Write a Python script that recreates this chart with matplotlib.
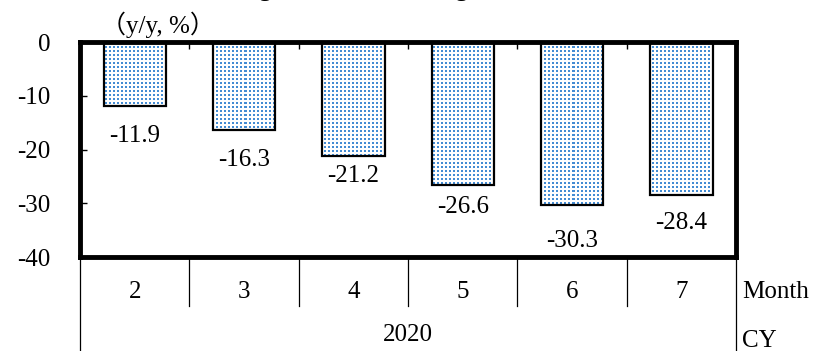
import numpy as np
import matplotlib
matplotlib.use("Agg")
import matplotlib.pyplot as plt
import matplotlib.transforms as mtransforms

plt.rcParams['font.family'] = ['Liberation Serif', 'Noto Sans CJK JP']

months = ["2", "3", "4", "5", "6", "7"]
year = "2020"
values = [-11.9, -16.3, -21.2, -26.6, -30.3, -28.4]
yticks = [0, -10, -20, -30, -40]

# how far below each bar end its value label sits (pixels)
label_drop = [30, 30, 20, 22, 36, 28]

dot_color = (0.27, 0.55, 0.83, 1.0)
fs = 18

fig = plt.figure(figsize=(8.15, 3.51), dpi=100)
ax = fig.add_axes([0.0982, 0.2678, 0.8049, 0.6125])

x = np.arange(len(months))
ax.set_xlim(-0.5, len(months) - 0.5)
ax.set_ylim(-40, 0)

# dotted texture, one image pixel per screen pixel
w_px, h_px = 656, 215
tex = np.ones((h_px, w_px, 4))
yy, xx = np.mgrid[0:h_px, 0:w_px]
mask = (yy % 4 < 2) & (xx % 4 < 2)
tex[mask] = dot_color

bars = ax.bar(x, values, width=0.57, color="white", edgecolor="none", zorder=1)
for b in bars:
    im = ax.imshow(tex, extent=(-0.5, len(months) - 0.5, -40, 0),
                   aspect="auto", interpolation="nearest", zorder=2)
    im.set_clip_path(b)
ax.bar(x, values, width=0.57, facecolor="none", edgecolor="black",
       linewidth=1.6, zorder=3)

for xi, v, d in zip(x, values, label_drop):
    ax.annotate(f"{v:.1f}", (xi, v), xytext=(0, -d), textcoords="offset pixels",
                ha="center", va="center", fontsize=fs)

for s in ax.spines.values():
    s.set_linewidth(3.5)
    s.set_capstyle("projecting")
    s.set_zorder(5)

ax.set_yticks(yticks)
ax.set_yticklabels([str(t) for t in yticks])
ax.tick_params(axis="y", direction="in", length=5, width=1, pad=21, labelsize=fs)

bounds = np.arange(len(months) + 1) - 0.5
ax.xaxis.tick_top()
ax.set_xticks(bounds[1:-1])
ax.tick_params(axis="x", direction="in", length=5, width=1, labeltop=False)

# category table below the plot
trans = mtransforms.blended_transform_factory(ax.transData, ax.transAxes)
for i, bx in enumerate(bounds):
    bottom = -0.437 if i in (0, len(bounds) - 1) else -0.228
    ax.plot([bx, bx], [0, bottom], color="black", lw=0.9, transform=trans,
            clip_on=False, zorder=0)
for xi, m in zip(x, months):
    ax.text(xi, -0.163, m, transform=trans, ha="center", va="center", fontsize=fs)
ax.text(np.mean(x), -0.363, year, transform=trans, ha="center", va="center",
        fontsize=fs)
ax.text(1.009, -0.163, "Month", transform=ax.transAxes, ha="left", va="center",
        fontsize=fs)
ax.text(1.009, -0.39, "CY", transform=ax.transAxes, ha="left", va="center",
        fontsize=fs)

fig.text(0.124, 0.929, "（y/y, %）", ha="left", va="center", fontsize=fs,
         family=["Liberation Serif", "Noto Sans CJK JP"])
fig.text(0.47, 1.012, "Change in Number of Regular Jobs", ha="center",
         va="baseline", fontsize=17, fontweight="bold")

fig.savefig("out.png", dpi=100)
